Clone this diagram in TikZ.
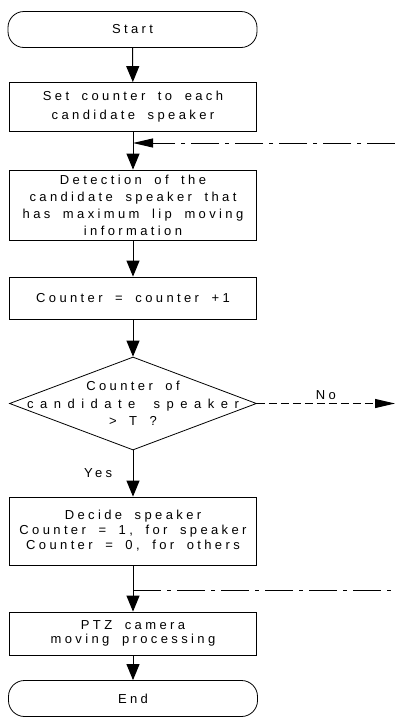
\documentclass[tikz,border=0pt]{standalone}
\usepackage{fontspec}
\setmainfont{Liberation Sans}[LetterSpace=26, WordSpace=1.8]
\usetikzlibrary{arrows.meta,shapes.geometric}

\tikzset{
  term/.style={draw, line width=0.8pt, rounded corners=16pt, minimum width=249pt, minimum height=36pt},
  proc/.style={draw, line width=0.8pt, minimum width=247pt, inner sep=0pt, align=center},
  decision/.style={diamond, draw, line width=0.8pt, minimum width=247pt, minimum height=93pt, inner sep=0pt},
  flow/.style={line width=1pt, -{Triangle[length=16pt,width=13pt]}},
  hflow/.style={line width=1pt, -{Triangle[length=20pt,width=9pt]}},
  loopline/.style={line width=0.8pt, dash pattern=on 28pt off 6pt on 4pt off 6pt},
  noline/.style={line width=0.8pt, dash pattern=on 8pt off 4pt}
}

\begin{document}
\begin{tikzpicture}[x=1pt,y=-1pt,font=\fontsize{13}{17}\selectfont]
    \useasboundingbox (0,0) rectangle (395,718);
    \node[term] (start) at (132.5,29.5) {Start};
    \node[proc, minimum height=49pt, font=\fontsize{13}{19}\selectfont] (set) at (133,107) {Set counter to each\\candidate speaker};
    \node[proc, minimum height=70pt, font=\fontsize{13}{17}\selectfont] (detect) at (133,205) {Detection of the\\candidate speaker that\\has maximum lip moving\\information};
    \node[proc, minimum height=42pt] (count) at (133,298) {Counter = counter +1};
    \node[decision, label={[align=center, font=\fontsize{13}{17.5}\selectfont]center:Counter of\\{\addfontfeature{LetterSpace=50}candidate speaker}\\> T ?}] (check) at (133,403.5) {};
    \node[proc, minimum height=68pt, font=\fontsize{13}{15}\selectfont] (decide) at (133,531) {Decide speaker\\Counter = 1, for speaker\\Counter = 0, for others};
    \node[proc, minimum height=43pt, font=\fontsize{13}{14}\selectfont] (ptz) at (133,633.5) {PTZ camera\\moving processing};
    \node[term] (stop) at (133,698.5) {End};

    \coordinate (loopin) at (395,143);
    \coordinate (loopout) at (395,590);
    \coordinate (noend) at (395,403.5);

    \draw[flow] (start) -- (set);
    \draw[flow] (set) -- (detect);
    \draw[loopline, hflow] (loopin) -- (set.south |- loopin);
    \draw[flow] (detect) -- (count);
    \draw[flow] (count) -- (check);
    \draw[noline, hflow] (check.east) -- node[above] {No} (noend);
    \draw[flow] (check) -- node[left=17pt] {Yes} (decide);
    \draw[flow] (decide) -- (ptz);
    \draw[loopline] (decide.south |- loopout) -- (loopout);
    \draw[flow] (ptz) -- (stop);
\end{tikzpicture}
\end{document}
